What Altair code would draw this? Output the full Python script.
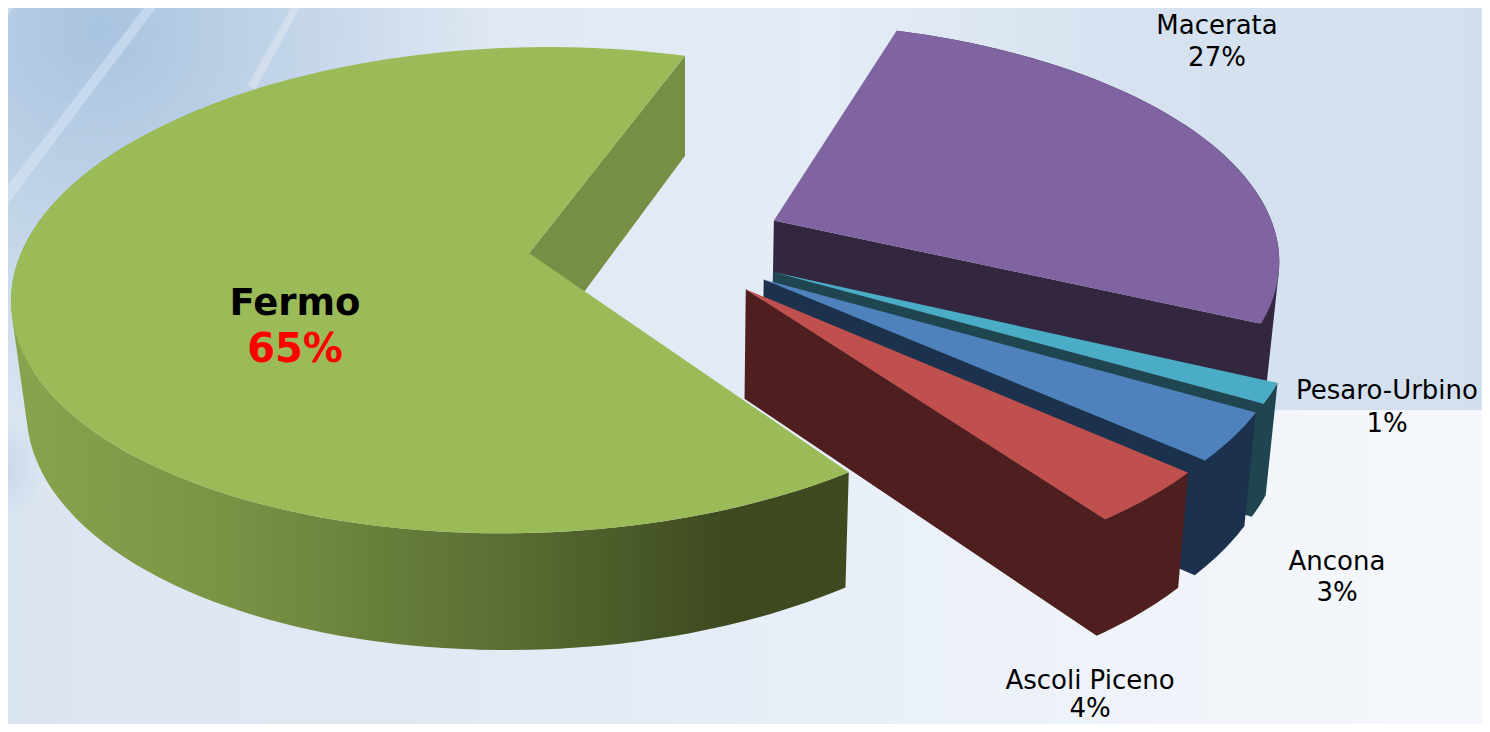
import math
import altair as alt

CATEGORIES = ["Fermo", "Macerata", "Pesaro-Urbino", "Ancona", "Ascoli Piceno"]
SHARES = [65.0, 27.0, 1.33, 3.17, 3.5]
TOP_COLOURS = ["#9bbb59", "#8064a2", "#4bacc6", "#4f81bd", "#c0504d"]
WALL_COLOURS = ["#778f45", "#32273f", "#1f4650", "#1c314c", "#4f1e1e"]

# label anchors (screen px), kept apart from the values
LABEL_POS = {
    "Macerata": (1217, 26, 58),
    "Pesaro-Urbino": (1387, 391, 424),
    "Ancona": (1337, 562, 593),
    "Ascoli Piceno": (1090, 681, 709),
    "Fermo": (295, 304, 350),
}

# camera of the 3-D pie
W, H = 1474, 716
START_DEG = 144.0
EXPLODE = 0.255
ORIGIN = (0.256, -0.039)
PA, PB, PC, PD, PE, PH, PK = 508.0, -103.0, 527.0, 199.0, 253.0, -0.152, 0.0313
DEPTH_E = 119.3
CAM_X, CAM_S_LEFT, CAM_S_RIGHT = 684.0, 0.023, 0.02
FRONT_LIMIT_DEG = 300.0


def top(X, Y):
    w = 1 + PH * Y
    return (PA * X + PB * Y + PC) / w, (PD * Y + PE) / w


def bottom(X, Y):
    w = 1 + PH * Y
    xt, yt = top(X, Y)
    s = CAM_S_LEFT if xt < CAM_X else CAM_S_RIGHT
    return xt + s * (CAM_X - xt), (yt * w + DEPTH_E) / (w + PK)


def ring_of(pts):
    # every ring turned the same way, so that overlaps in one path never cancel
    area = sum(pts[i][0] * pts[(i + 1) % len(pts)][1] - pts[(i + 1) % len(pts)][0] * pts[i][1] for i in range(len(pts)))
    ordered = pts if area >= 0 else list(reversed(pts))
    ring = [[round(x, 2), round(y, 2)] for x, y in ordered]
    ring.append(ring[0])
    return ring


def feature(pts, fill):
    return {"type": "Feature", "properties": {"fill": fill},
            "geometry": {"type": "Polygon", "coordinates": [ring_of(pts)]}}


def multi(polys, fill):
    return {"type": "Feature", "properties": {"fill": fill},
            "geometry": {"type": "MultiPolygon", "coordinates": [[ring_of(p)] for p in polys]}}


def rim(a0, a1):
    n = max(2, int(abs(a1 - a0)) + 1)
    return [a0 + (a1 - a0) * i / n for i in range(n + 1)]


slices = {}
angle = START_DEG
for name, share, tc, wc in zip(CATEGORIES, SHARES, TOP_COLOURS, WALL_COLOURS):
    a0, a1 = angle, angle + share * 3.6
    angle = a1
    mid = math.radians((a0 + a1) / 2)
    ax = ORIGIN[0] + EXPLODE * math.sin(mid)
    ay = ORIGIN[1] - EXPLODE * math.cos(mid)

    def on_disk(t):
        return ax + math.sin(math.radians(t)), ay - math.cos(math.radians(t))

    disk = [on_disk(t) for t in rim(a0, a1)]
    top_face = [top(ax, ay)] + [top(*p) for p in disk]
    wall_end = FRONT_LIMIT_DEG if a0 < FRONT_LIMIT_DEG < a1 else a1
    wall_disk = [on_disk(t) for t in rim(a0, wall_end)]
    quads = []
    for i in range(len(wall_disk) - 1):
        j = min(i + 2, len(wall_disk) - 1)
        quads.append([top(*wall_disk[i]), top(*wall_disk[j]), bottom(*wall_disk[j]), bottom(*wall_disk[i])])
    ex, ey = disk[-1]
    radial = [top(ax, ay), top(ex, ey), bottom(ex, ey), bottom(ax, ay)]
    slices[name] = dict(top=feature(top_face, tc), quads=quads, radial=radial, wall=wc)

PROJ = dict(type="identity", scale=1, translate=[-8, -8])
fill_field = alt.Color("properties.fill:N", scale=None, legend=None)


def flat(features):
    return alt.Chart(alt.Data(values=features)).mark_geoshape(filled=True, strokeWidth=0).encode(
        color=fill_field
    ).project(**PROJ)


def painted(features, paint):
    return alt.Chart(alt.Data(values=features)).mark_geoshape(filled=True, strokeWidth=0, fill=paint).project(**PROJ)


def hgrad(stops):
    return alt.LinearGradient(
        gradient="linear", x1=0, x2=1, y1=0, y2=0,
        stops=[alt.GradientStop(offset=o, color=c) for o, c in stops],
    )


def glow(cx, cy, r, inner, outer):
    return alt.RadialGradient(
        gradient="radial", x1=cx, y1=cy, x2=cx, y2=cy, r1=0, r2=r,
        stops=[alt.GradientStop(offset=0, color=inner), alt.GradientStop(offset=1, color=outer)],
    )


def box(x0, y0, x1, y1):
    return feature([(x0, y0), (x1, y0), (x1, y1), (x0, y1)], "#ffffff")


# backdrop
sky = painted([box(0, 0, 1490, 410)], hgrad([(0, "#dbe5f1"), (0.3, "#e0e8f3"), (0.56, "#e4ecf6"),
                                             (0.76, "#d6e2f0"), (1, "#d2dfee")]))
ground = painted([box(0, 410, 1490, 732)], hgrad([(0, "#dbe5f1"), (0.4, "#e3ebf5"), (0.6, "#eaf0f8"),
                                                  (0.85, "#f2f5fa"), (1, "#f4f7fb")]))
corner = painted([box(0, 0, 800, 800)], glow(0.125, 0.0375, 0.5, "rgba(160,190,220,0.85)", "rgba(160,190,220,0)"))
haze = painted([box(-45, 415, 65, 525)], glow(0.32, 0.5, 0.5, "rgba(190,208,228,0.85)", "rgba(190,208,228,0)"))
streaks = flat([
    feature([(0, 196), (150, 0), (162, 0), (0, 214)], "rgba(225,236,250,0.45)"),
    feature([(247, 86), (296, 0), (304, 0), (255, 90)], "rgba(232,236,244,0.45)"),
    feature([(0, 18), (12, 0), (18, 0), (0, 28)], "rgba(225,236,250,0.45)"),
])

# slices: back to front, the largest one last
rest_features = []
for n in CATEGORIES[1:]:
    s = slices[n]
    rest_features.append(multi(s["quads"] + [s["radial"]], s["wall"]))
    rest_features.append(s["top"])
rest_layers = flat(rest_features)
fermo = slices["Fermo"]
fermo_end = flat([feature(fermo["radial"], fermo["wall"])])
fermo_wall = painted([multi(fermo["quads"], fermo["wall"])],
                     hgrad([(0, "#89a34e"), (0.25, "#7a9446"), (0.6, "#596d32"), (0.85, "#3e4a20"), (1, "#3e4a20")]))
fermo_top = flat([fermo["top"]])

# labels
rows = []
for name, share in zip(CATEGORIES, SHARES):
    x, y1, y2 = LABEL_POS[name]
    rows.append({"text": name, "lon": x, "lat": y1, "kind": "name", "main": name == "Fermo"})
    rows.append({"text": f"{round(share)}%", "lon": x, "lat": y2, "kind": "share", "main": name == "Fermo"})


def text_layer(data, size, weight, color):
    return alt.Chart(alt.Data(values=data)).mark_text(
        font="DejaVu Sans", fontSize=size, fontWeight=weight, color=color, align="center", baseline="middle"
    ).encode(longitude="lon:Q", latitude="lat:Q", text="text:N").project(**PROJ)


plain = text_layer([r for r in rows if not r["main"]], 26, "normal", "#000000")
main_name = text_layer([r for r in rows if r["main"] and r["kind"] == "name"], 37, "bold", "#000000")
main_share = text_layer([r for r in rows if r["main"] and r["kind"] == "share"], 40, "bold", "#ff0000")

chart = alt.layer(
    sky, ground, corner, haze, streaks, rest_layers, fermo_end, fermo_wall, fermo_top, plain, main_name, main_share
).properties(width=W, height=H, padding=0, autosize=alt.AutoSizeParams(type="none")).configure_view(strokeWidth=0)

chart.save("out.html", embed_options={"renderer": "svg", "actions": False})
